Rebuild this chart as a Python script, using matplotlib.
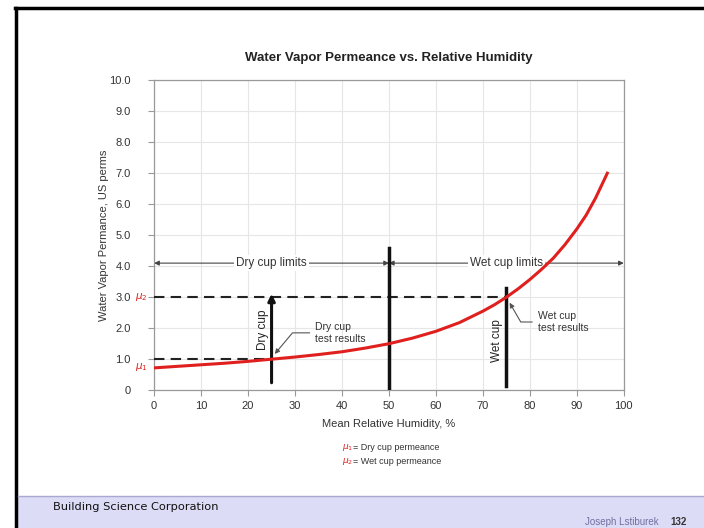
import matplotlib
matplotlib.use('Agg')
import matplotlib.pyplot as plt
from matplotlib.lines import Line2D
from matplotlib.patches import Rectangle

# curve
rh = [0, 5, 10, 15, 20, 25, 30, 35, 40, 45, 50, 55, 60, 65, 70, 72.5, 75, 77.5, 80, 82.5, 85,
      87.5, 90, 92, 94, 96.5]
perm = [0.72, 0.77, 0.82, 0.87, 0.93, 1.0, 1.07, 1.15, 1.24, 1.36, 1.5, 1.68, 1.9, 2.18, 2.55,
        2.76, 3.0, 3.27, 3.57, 3.9, 4.26, 4.7, 5.2, 5.65, 6.2, 7.0]

dry_rh, dry_perm = 25, 1.0
wet_rh, wet_perm = 75, 3.0
limits_y = 4.1
xticks = [0, 10, 20, 30, 40, 50, 60, 70, 80, 90, 100]
yticks = [0, 1, 2, 3, 4, 5, 6, 7, 8, 9, 10]
ytick_labels = ['0', '1.0', '2.0', '3.0', '4.0', '5.0', '6.0', '7.0', '8.0', '9.0', '10.0']

plt.rcParams['font.family'] = ['Liberation Sans', 'DejaVu Sans']
red = '#e0201e'
gray = '#555555'

fig = plt.figure(figsize=(7.04, 5.28), dpi=100)
ax = fig.add_axes([0.219, 0.261, 0.667, 0.587])

ax.set_xlim(0, 100)
ax.set_ylim(0, 10)
ax.set_xticks(xticks)
ax.set_yticks(yticks)
ax.set_yticklabels(ytick_labels)
ax.tick_params(labelsize=8, colors='#333333', length=4, color='#999999')
ax.tick_params(axis='y', pad=13)
ax.grid(color='#e6e6e6', linewidth=0.8)
for s in ax.spines.values():
    s.set_color('#999999')
    s.set_linewidth(0.9)

ax.plot(rh, perm, color=red, linewidth=2.2, zorder=7)

# dashed reference lines
ax.plot([0, wet_rh], [wet_perm, wet_perm], color='#222222', lw=1.5, ls=(0, (5, 3)), zorder=3)
ax.plot([0, dry_rh], [dry_perm, dry_perm], color='#222222', lw=1.5, ls=(0, (5, 3)), zorder=3)

# vertical bars
ax.plot([50, 50], [0, 4.6], color='#111111', lw=2.5, zorder=5)
ax.annotate('', xy=(dry_rh, 3.2), xytext=(dry_rh, 0.15),
            arrowprops=dict(arrowstyle='-|>', color='#111111', lw=2.2, mutation_scale=10), zorder=5)
ax.plot([wet_rh, wet_rh], [0.15, 3.3], color='#111111', lw=2.5, zorder=5)

ax.text(dry_rh - 1.9, 1.95, 'Dry cup', rotation=90, ha='center', va='center', fontsize=8.5, color='#222222')
ax.text(wet_rh - 1.9, 1.6, 'Wet cup', rotation=90, ha='center', va='center', fontsize=8.5, color='#222222')

# limit arrows
ax.annotate('', xy=(0, limits_y), xytext=(50, limits_y),
            arrowprops=dict(arrowstyle='<|-|>', color='#444444', lw=0.8, mutation_scale=7, shrinkA=0, shrinkB=0))
ax.annotate('', xy=(50, limits_y), xytext=(100, limits_y),
            arrowprops=dict(arrowstyle='<|-|>', color='#444444', lw=0.8, mutation_scale=7, shrinkA=0, shrinkB=0))
ax.text(25, limits_y, 'Dry cup limits', ha='center', va='center', fontsize=8.5, color='#333333',
        bbox=dict(facecolor='white', edgecolor='none', pad=1.5), zorder=6)
ax.text(75, limits_y, 'Wet cup limits', ha='center', va='center', fontsize=8.5, color='#333333',
        bbox=dict(facecolor='white', edgecolor='none', pad=1.5), zorder=6)

# callouts
ax.annotate('Dry cup\ntest results', xy=(dry_rh + 0.3, dry_perm + 0.1), xytext=(34.3, 1.85),
            fontsize=7.5, color='#333333', va='center', ha='left',
            arrowprops=dict(arrowstyle='-|>', color=gray, lw=0.8, mutation_scale=7,
                            connectionstyle='angle,angleA=0,angleB=50,rad=0'))
ax.annotate('Wet cup\ntest results', xy=(wet_rh + 0.4, wet_perm - 0.1), xytext=(81.7, 2.2),
            fontsize=7.5, color='#333333', va='center', ha='left',
            arrowprops=dict(arrowstyle='-|>', color=gray, lw=0.8, mutation_scale=7,
                            connectionstyle='angle,angleA=0,angleB=-60,rad=0'))

# mu labels
ax.text(-1.3, 0.75, r'$\mu_1$', color=red, fontsize=7.5, ha='right', va='center')
ax.text(-1.3, 3.0, r'$\mu_2$', color=red, fontsize=7.5, ha='right', va='center')

ax.set_title('Water Vapor Permeance vs. Relative Humidity', fontsize=9.5, fontweight='bold',
             color='#222222', pad=14)
ax.set_xlabel('Mean Relative Humidity, %', fontsize=8, color='#333333', labelpad=6)
ax.set_ylabel('Water Vapor Permance, US perms', fontsize=8, color='#333333', labelpad=0)

fig.text(0.486, 0.153, r'$\mu_1$', color=red, fontsize=6.5, ha='left', va='center')
fig.text(0.502, 0.153, '= Dry cup permeance', color='#333333', fontsize=6.5, ha='left', va='center')
fig.text(0.486, 0.126, r'$\mu_2$', color=red, fontsize=6.5, ha='left', va='center')
fig.text(0.502, 0.126, '= Wet cup permeance', color='#333333', fontsize=6.5, ha='left', va='center')

# slide frame and footer
fig.add_artist(Line2D([0.022, 1.0], [0.985, 0.985], color='black', lw=2.5, transform=fig.transFigure))
fig.add_artist(Line2D([0.023, 0.023], [0.0, 0.985], color='black', lw=2.5, transform=fig.transFigure))
fig.add_artist(Rectangle((0.025, 0.0), 0.975, 0.061, facecolor='#dcdcf7', edgecolor='none',
                         transform=fig.transFigure, zorder=0))
fig.add_artist(Line2D([0.025, 1.0], [0.061, 0.061], color='#a8a8d0', lw=1.0, transform=fig.transFigure))
fig.text(0.075, 0.040, 'Building Science Corporation', fontsize=8.2, family='DejaVu Sans',
         ha='left', va='center', color='#111111')
fig.text(0.935, 0.012, 'Joseph Lstiburek', fontsize=7, ha='right', va='center', color='#7070a0')
fig.text(0.975, 0.012, '132', fontsize=7, fontweight='bold', ha='right', va='center', color='#333333')

fig.savefig('out.png', dpi=100)
